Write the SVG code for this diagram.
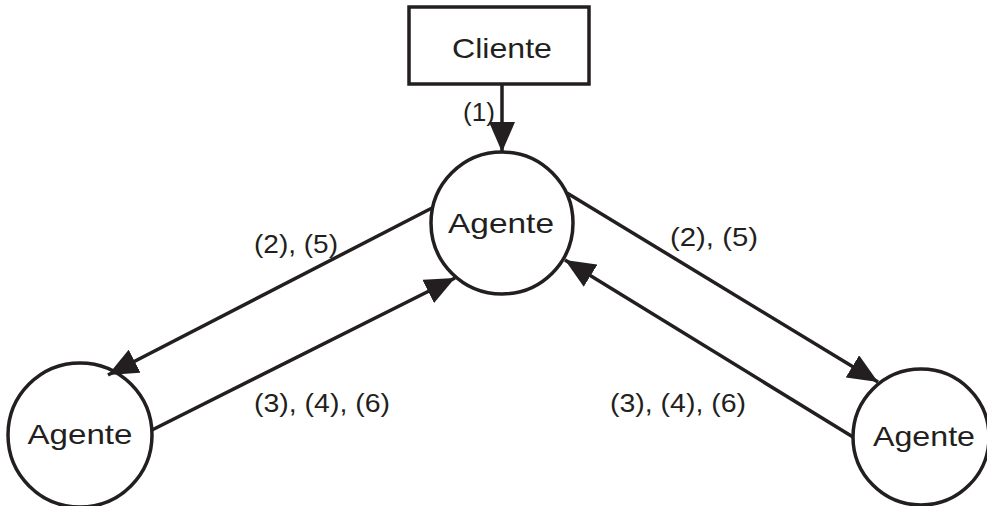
<svg xmlns="http://www.w3.org/2000/svg" width="987" height="506" viewBox="0 0 987 506">
<style>
.node{fill:#fff;stroke:#231f20;stroke-width:3.5}
.lbl{font-family:"Liberation Sans",Arial,sans-serif;fill:#231f20;text-anchor:middle}
.nl{font-size:28px}
.el{font-size:25px}
.edge{stroke:#231f20;stroke-width:3.5;fill:none}
</style>
<defs>
<marker id="ah" markerUnits="userSpaceOnUse" markerWidth="32" markerHeight="26" refX="30" refY="13" orient="auto" viewBox="0 0 32 26">
<path d="M0,0 L30,13 L0,26 Z" fill="#231f20"/>
</marker>
</defs>
<rect width="987" height="506" fill="#fff"/>
<g id="cliente">
<rect class="node" x="409" y="7" width="180" height="77"/>
<text class="lbl nl" x="502" y="58" textLength="100" lengthAdjust="spacingAndGlyphs">Cliente</text>
</g>
<g id="agente-centro">
<circle class="node" cx="502" cy="223" r="71"/>
<text class="lbl nl" x="501" y="233" textLength="106" lengthAdjust="spacingAndGlyphs">Agente</text>
</g>
<g id="agente-izq">
<circle class="node" cx="80" cy="435" r="72"/>
<text class="lbl nl" x="80" y="444" textLength="105" lengthAdjust="spacingAndGlyphs">Agente</text>
</g>
<g id="agente-der">
<circle class="node" cx="921" cy="437" r="68"/>
<text class="lbl nl" x="924" y="446" textLength="102" lengthAdjust="spacingAndGlyphs">Agente</text>
</g>
<g id="connectors">
<line class="edge" x1="502" y1="84" x2="502" y2="152" marker-end="url(#ah)"/>
<line class="edge" x1="432" y1="208" x2="108" y2="375" marker-end="url(#ah)"/>
<line class="edge" x1="152" y1="430" x2="455" y2="278" marker-end="url(#ah)"/>
<line class="edge" x1="567" y1="193" x2="878" y2="382" marker-end="url(#ah)"/>
<line class="edge" x1="853" y1="437" x2="565" y2="260" marker-end="url(#ah)"/>
<text class="lbl el" x="479" y="121" textLength="32" lengthAdjust="spacingAndGlyphs">(1)</text>
<text class="lbl el" x="296" y="253" textLength="84" lengthAdjust="spacingAndGlyphs">(2), (5)</text>
<text class="lbl el" x="714" y="246" textLength="88" lengthAdjust="spacingAndGlyphs">(2), (5)</text>
<text class="lbl el" x="322" y="412" textLength="136" lengthAdjust="spacingAndGlyphs">(3), (4), (6)</text>
<text class="lbl el" x="678" y="412" textLength="136" lengthAdjust="spacingAndGlyphs">(3),  (4), (6)</text>
</g>
</svg>
